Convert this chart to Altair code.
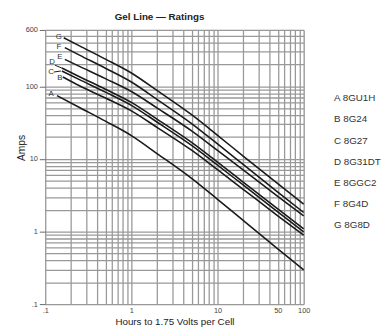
import altair as alt
import pandas as pd

# ---- data ----
SERIES = ["A", "B", "C", "D", "E", "F", "G"]
NAMES = ["8GU1H", "8G24", "8G27", "8G31DT", "8GGC2", "8G4D", "8G8D"]
START_HOURS = [0.137, 0.160, 0.156, 0.156, 0.169, 0.169, 0.164]
HOURS = [0.25, 0.5, 1, 2, 5, 10, 20, 50, 100]

A_AMPS = [74.8, 51.2, 33.2, 21.0, 11.8, 5.40, 2.78, 1.41, 0.578, 0.297]
B_AMPS = [135, 102, 69.2, 46.0, 27.1, 13.2, 7.11, 3.79, 1.65, 0.89]
C_AMPS = [163, 124, 83.4, 54.8, 32.1, 15.4, 8.24, 4.35, 1.87, 0.99]
D_AMPS = [179, 136, 91.5, 60.2, 35.2, 16.9, 9.04, 4.77, 2.05, 1.09]
E_AMPS = [236, 189, 128, 85.1, 50.2, 24.4, 13.1, 7.0, 3.05, 1.64]
F_AMPS = [343, 270, 178, 115, 65.8, 30.8, 16.1, 8.34, 3.50, 1.83]
G_AMPS = [468, 362, 238, 153, 87.3, 40.7, 21.2, 10.9, 4.57, 2.38]

LABEL_HOURS = [0.117, 0.148, 0.117, 0.120, 0.148, 0.144, 0.144]
LABEL_AMPS = [79.6, 131, 158, 215, 251, 354, 483]

# short leader strokes from the D and C labels to their curves
LEADER_SERIES = ["D", "D", "C", "C"]
LEADER_HOURS = [0.130, 0.156, 0.126, 0.152]
LEADER_AMPS = [196, 179, 158, 163]

X_GRID = [0.1, 0.2, 0.3, 0.4, 0.5, 0.6, 0.7, 0.8, 0.9,
          1, 2, 3, 4, 5, 6, 7, 8, 9,
          10, 20, 30, 40, 50, 60, 70, 80, 90, 100]
Y_GRID = [0.1, 0.2, 0.3, 0.4, 0.5, 0.6, 0.7, 0.8, 0.9,
          1, 2, 3, 4, 5, 6, 7, 8, 9,
          10, 20, 30, 40, 50, 60, 70, 80, 90,
          100, 200, 300, 400, 500, 600]

# ---- build tables ----
amps_lists = [A_AMPS, B_AMPS, C_AMPS, D_AMPS, E_AMPS, F_AMPS, G_AMPS]
rows = []
for s, n, h0, amps in zip(SERIES, NAMES, START_HOURS, amps_lists):
    for h, a in zip([h0] + HOURS, amps):
        rows.append({"series": s, "name": f"{s} {n}", "hours": h, "amps": a})
df = pd.DataFrame(rows)
lab = pd.DataFrame({"series": SERIES, "hours": LABEL_HOURS, "amps": LABEL_AMPS})
lead = pd.DataFrame({"series": LEADER_SERIES, "hours": LEADER_HOURS, "amps": LEADER_AMPS})

FONT = "Liberation Sans"
GRID = "#999999"

xs = alt.Scale(type="log", domain=[0.1, 100], nice=False)
ys = alt.Scale(type="log", domain=[0.1, 600], nice=False)

x_label_expr = ("datum.value == 0.1 ? '.1' : (datum.value == 1 || datum.value == 10 || "
                "datum.value == 50 || datum.value == 100) ? datum.label : ''")
y_label_expr = ("datum.value == 0.1 ? '.1' : (datum.value == 1 || datum.value == 10 || "
                "datum.value == 100 || datum.value == 600) ? datum.label : ''")

x_axis = alt.Axis(values=X_GRID, labelExpr=x_label_expr, title="Hours to 1.75 Volts per Cell",
                  grid=True, gridColor=GRID, gridWidth=1.3, gridOpacity=1,
                  domain=False, ticks=False, labelFont=FONT, labelFontSize=7.5,
                  labelColor="#444", labelPadding=3, labelFlush=False, labelOverlap=False,
                  titleFont=FONT, titleFontSize=10, titleFontWeight="normal",
                  titleColor="#222", titlePadding=2)
y_axis = alt.Axis(values=Y_GRID, labelExpr=y_label_expr, title="Amps",
                  grid=True, gridColor=GRID, gridWidth=1.3, gridOpacity=1,
                  domain=False, tickSize=6, tickColor="#666",
                  tickOpacity={"condition": {"test": "datum.value == 0.1 || datum.value == 1 || datum.value == 10 || datum.value == 100 || datum.value == 600", "value": 1}, "value": 0},
                  labelFont=FONT, labelFontSize=7.5, labelColor="#444", labelPadding=2,
                  labelFlush=False, labelOverlap=False,
                  titleFont=FONT, titleFontSize=10.5, titleFontWeight="normal",
                  titleColor="#222", titleX=-24, titleY=120, titleAngle=-90,
                  titleAlign="center", titleBaseline="middle")

lines = alt.Chart(df).mark_line(strokeWidth=1.6, interpolate="monotone").encode(
    x=alt.X("hours:Q", scale=xs, axis=x_axis),
    y=alt.Y("amps:Q", scale=ys, axis=y_axis),
    color=alt.Color("name:N",
                    scale=alt.Scale(domain=[f"{s} {n}" for s, n in zip(SERIES, NAMES)],
                                    range=["#1a1a1a"] * 7),
                    legend=alt.Legend(title=None, orient="none", legendX=285, legendY=65,
                                      symbolSize=0, symbolOpacity=0, symbolStrokeWidth=0,
                                      labelOffset=0, labelFont=FONT, labelFontSize=10,
                                      labelColor="#333", rowPadding=11.5)),
    detail="series:N",
)

leaders = alt.Chart(lead).mark_line(strokeWidth=1.0, color="#1a1a1a").encode(
    x=alt.X("hours:Q", scale=xs),
    y=alt.Y("amps:Q", scale=ys),
    detail="series:N",
)

letters = alt.Chart(lab).mark_text(font=FONT, fontSize=8, color="#333",
                                   align="center", baseline="middle").encode(
    x=alt.X("hours:Q", scale=xs),
    y=alt.Y("amps:Q", scale=ys),
    text="series:N",
)

chart = alt.layer(lines, leaders, letters).properties(
    width=264, height=280,
    padding={"left": 38, "top": 19, "right": 81, "bottom": 22},
    autosize=alt.AutoSizeParams(type="none"),
    title=alt.TitleParams("Gel Line — Ratings", anchor="start", frame="group", dx=71, offset=4,
                          font=FONT, fontSize=10, fontWeight="bold", color="#222"),
).configure_view(stroke=None).configure(background="white")

chart.save("out.html", embed_options={"renderer": "svg", "actions": False})
